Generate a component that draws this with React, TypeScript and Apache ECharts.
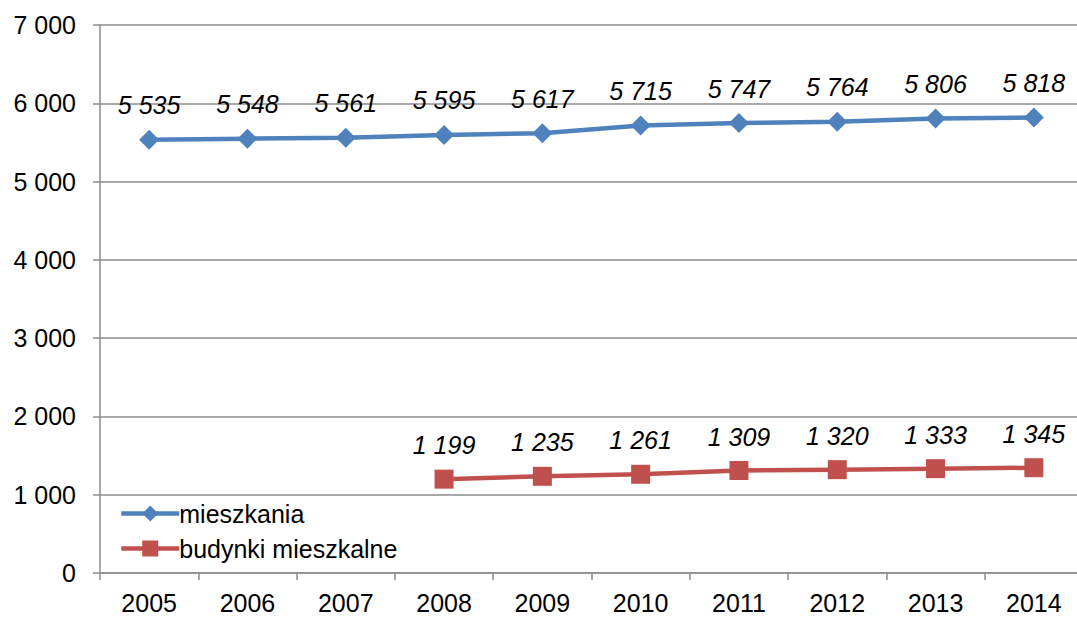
import React, { useEffect, useRef } from "react";
import * as echarts from "echarts";

const years = ["2005", "2006", "2007", "2008", "2009", "2010", "2011", "2012", "2013", "2014"];
const mieszkania = [5535, 5548, 5561, 5595, 5617, 5715, 5747, 5764, 5806, 5818];
const budynki = [null, null, null, 1199, 1235, 1261, 1309, 1320, 1333, 1345];

const fmt = (v: number) => String(v).replace(/\B(?=(\d{3})+(?!\d))/g, " ");
const FONT = "'Liberation Sans', Arial, sans-serif";

export default function App() {
  const ref = useRef<HTMLDivElement>(null);
  useEffect(() => {
    const chart = echarts.init(ref.current!, null, { renderer: "svg" });
    const labelStyle = {
      show: true,
      position: "top" as const,
      distance: 12,
      fontFamily: FONT,
      fontSize: 25,
      fontStyle: "italic" as const,
      color: "#000",
      formatter: (p: any) => fmt(p.value),
    };
    chart.setOption({
      animation: false,
      backgroundColor: "#fff",
      textStyle: { fontFamily: FONT },
      grid: { left: 100, right: 0, top: 25, bottom: 44, containLabel: false },
      legend: {
        orient: "vertical",
        left: 114,
        top: 496,
        itemWidth: 58,
        itemHeight: 20,
        itemGap: 10,
        lineStyle: { width: 4.5 },
        textStyle: { fontFamily: FONT, fontSize: 25, color: "#000", padding: [0, 0, 0, -5] },
        data: ["mieszkania", "budynki mieszkalne"],
      },
      xAxis: {
        type: "category",
        data: years,
        boundaryGap: true,
        axisLine: { lineStyle: { color: "#8c8c8c", width: 1.5 } },
        axisTick: { show: true, length: 7, alignWithLabel: false, lineStyle: { color: "#8c8c8c", width: 1.5 } },
        axisLabel: { color: "#000", fontSize: 25, fontFamily: FONT, margin: 17 },
      },
      yAxis: {
        type: "value",
        min: 0,
        max: 7000,
        interval: 1000,
        axisLine: { show: true, lineStyle: { color: "#8c8c8c", width: 1.5 } },
        axisTick: { show: true, length: 7, lineStyle: { color: "#8c8c8c", width: 1.5 } },
        splitLine: { show: true, lineStyle: { color: "#8c8c8c", width: 1.5 } },
        axisLabel: { color: "#000", fontSize: 25, fontFamily: FONT, margin: 24, formatter: (v: number) => fmt(v) },
      },
      series: [
        {
          name: "mieszkania",
          type: "line",
          data: mieszkania,
          symbol: "diamond",
          symbolSize: 20,
          itemStyle: { color: "#4F81BD" },
          lineStyle: { color: "#4F81BD", width: 4.5 },
          label: labelStyle,
        },
        {
          name: "budynki mieszkalne",
          type: "line",
          data: budynki,
          symbol: "rect",
          symbolSize: 19,
          itemStyle: { color: "#C0504D" },
          lineStyle: { color: "#C0504D", width: 4.5 },
          label: labelStyle,
        },
      ],
    });
    return () => chart.dispose();
  }, []);
  return (
    <div style={{ position: "absolute", left: 0, top: 0, width: 1077, height: 617, overflow: "hidden" }}>
      <div ref={ref} style={{ position: "absolute", left: 0, top: 0, width: 1083, height: 617 }} />
    </div>
  );
}
